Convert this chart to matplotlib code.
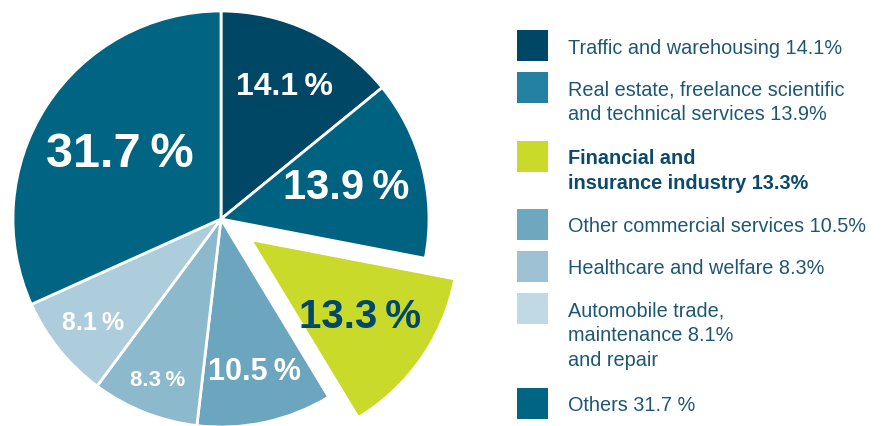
import matplotlib
matplotlib.use('Agg')
import matplotlib.pyplot as plt
from matplotlib.patches import Rectangle
import numpy as np

# slice data, clockwise from 12 o'clock
shares = [14.1, 13.9, 13.3, 10.5, 8.3, 8.1, 31.7]
slice_labels = ['14.1\u2009%', '13.9\u2009%', '13.3\u2009%', '10.5\u2009%',
                '8.3\u2009%', '8.1\u2009%', '31.7\u2009%']
legend_texts = [
    'Traffic and warehousing 14.1%',
    'Real estate, freelance scientific\nand technical services 13.9%',
    'Financial and\ninsurance industry 13.3%',
    'Other commercial services 10.5%',
    'Healthcare and welfare 8.3%',
    'Automobile trade,\nmaintenance 8.1%\nand repair',
    'Others 31.7 %',
]

slice_colors = ['#004766', '#006281', '#c9da2a', '#6ca5be', '#8db9cc', '#aecddc', '#006482']
legend_colors = ['#004766', '#2581a1', '#c9da2a', '#6ea7c0', '#9ec2d4', '#c0d9e5', '#006482']
explode = [0, 0, 36, 0, 0, 0, 0]   # pie() takes this in data units here
label_frac = [0.71, 0.62, 0.64, 0.75, 0.83, 0.79, 0.58]
label_size = [23, 30, 29, 22, 16, 18, 35]
label_color = ['white', 'white', '#00476a', 'white', 'white', 'white', 'white']

fonts = ['Liberation Sans', 'DejaVu Sans']
text_col = '#1d5775'

fig = plt.figure(figsize=(8.89, 4.27), dpi=100)
ax = fig.add_axes([0, 0, 1, 1])

cx, cy, r = 221, 207, 208
wedges, _ = ax.pie(shares, colors=slice_colors, startangle=90, counterclock=False,
                   explode=explode, center=(cx, cy), radius=r, frame=True,
                   wedgeprops=dict(edgecolor='white', linewidth=2))

for w, lab, f, fs, col in zip(wedges, slice_labels, label_frac, label_size, label_color):
    theta = np.deg2rad((w.theta1 + w.theta2) / 2)
    wx, wy = w.center
    ax.text(wx + f * r * np.cos(theta), wy + f * r * np.sin(theta), lab,
            ha='center', va='center', fontsize=fs, fontweight='bold',
            color=col, family=fonts)

# legend, drawn by hand
top = 427 - 31
for i, (txt, col) in enumerate(zip(legend_texts, legend_colors)):
    ax.add_patch(Rectangle((517, top - 31), 31, 31, facecolor=col, edgecolor='none'))
    lines = txt.split('\n')
    base = top - 15.5 - 7
    for j, line in enumerate(lines):
        ax.text(568, base - 25 * j, line, ha='left', va='baseline',
                fontsize=14.3, color='#0b4a6b' if i == 2 else text_col,
                fontweight='bold' if i == 2 else 'normal', family=fonts)
    top -= 42 + 26.5 * (len(lines) - 1)

ax.set_xlim(0, 889)
ax.set_ylim(0, 427)
ax.set_aspect('equal')
ax.axis('off')

plt.savefig('out.png', dpi=100)
plt.close()
